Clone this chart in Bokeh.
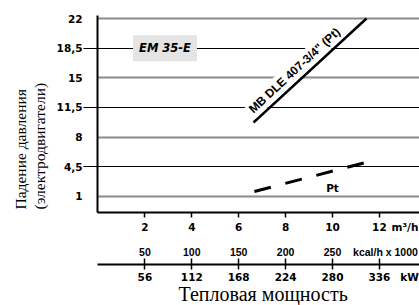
from bokeh.plotting import figure
from bokeh.models import Range1d, LinearAxis, FixedTicker, Label, Grid, Title
from bokeh.embed import file_html
from bokeh.resources import INLINE

# ---- data ----
y_ticks = [1, 4.5, 8, 11.5, 15, 18.5, 22]
y_tick_labels = ["1", "4,5", "8", "11,5", "15", "18,5", "22"]
grid_gray = [1, 8, 15, 22]
grid_black = [4.5, 11.5, 18.5]
flow_ticks = [2, 4, 6, 8, 10, 12]            # m3/h
kcal_ticks = [50, 100, 150, 200, 250]        # kcal/h x 1000
kw_ticks = [56, 112, 168, 224, 280, 336]     # kW
kcal_per_flow = 25
kw_per_flow = 28

flow_unit, flow_unit_at = "m³/h", 13.09
kcal_unit, kcal_unit_at = "kcal/h x 1000", 306.5
kw_unit, kw_unit_at = "kW", 371.9

mb_flow = [6.63, 11.45]
mb_dp = [9.73, 22.0]
pt_flow = [6.67, 11.41]
pt_dp = [1.59, 5.01]

# ---- ranges ----
X0, X1 = -0.021, 13.71
Y0, Y1 = -0.889, 22.354
AX_START = -0.19

p = figure(width=419, height=305, output_backend="svg", toolbar_location=None,
           x_range=Range1d(X0, X1), y_range=Range1d(Y0, Y1),
           min_border_left=97, min_border_right=0, min_border_top=15, min_border_bottom=93,
           x_axis_type=None, y_axis_type=None)
p.outline_line_color = None
p.background_fill_color = "white"
p.border_fill_color = "white"

FONT = "DejaVu Sans"


def style_labels(ax, font=FONT, size="10.5px"):
    ax.major_label_text_font = font
    ax.major_label_text_font_style = "bold"
    ax.major_label_text_font_size = size
    ax.major_label_text_color = "black"


# y axis
yax = LinearAxis(ticker=FixedTicker(ticks=y_ticks, minor_ticks=grid_black),
                 major_label_overrides={t: l for t, l in zip(y_ticks, y_tick_labels)})
yax.axis_line_color = "black"
yax.axis_line_width = 2
yax.major_tick_out = 0
yax.major_tick_in = 0
yax.minor_tick_out = 14
yax.minor_tick_in = 0
yax.minor_tick_line_color = "black"
yax.minor_tick_line_width = 1
yax.major_label_standoff = 1
style_labels(yax)
p.add_layout(yax, "left")

p.add_layout(Title(text="Падение давления\n(электродвигатели)", align="left", offset=3,
                   standoff=11, vertical_align="bottom", text_font="Liberation Serif",
                   text_font_size="15.5px", text_font_style="normal", text_color="black",
                   text_line_height=1.1), "left")

# x axis m3/h
xax = LinearAxis(ticker=FixedTicker(ticks=flow_ticks + [flow_unit_at], minor_ticks=flow_ticks),
                 bounds=(AX_START, X1), major_label_overrides={flow_unit_at: flow_unit})
xax.axis_line_width = 2
xax.axis_line_color = "black"
xax.major_tick_out = 0
xax.major_tick_in = 0
xax.minor_tick_out = 5
xax.minor_tick_in = 0
xax.minor_tick_line_color = "black"
xax.minor_tick_line_width = 1.5
xax.major_label_standoff = 3
style_labels(xax)
p.add_layout(xax, "below")

p.extra_x_ranges = {
    "kcal": Range1d(X0 * kcal_per_flow, X1 * kcal_per_flow),
    "kw": Range1d(X0 * kw_per_flow, X1 * kw_per_flow),
}

kax = LinearAxis(x_range_name="kcal", ticker=FixedTicker(ticks=kcal_ticks + [kcal_unit_at]),
                 major_label_overrides={kcal_unit_at: kcal_unit})
kax.axis_line_color = None
kax.major_tick_out = 0
kax.major_tick_in = 0
kax.minor_tick_line_color = None
kax.major_label_standoff = 10
style_labels(kax, font="Liberation Sans", size="10.5px")
kax.axis_label = " "
kax.axis_label_text_font_size = "1px"
kax.axis_label_standoff = 0
p.add_layout(kax, "below")

wax = LinearAxis(x_range_name="kw",
                 ticker=FixedTicker(ticks=kw_ticks + [kw_unit_at], minor_ticks=kw_ticks),
                 bounds=(AX_START * kw_per_flow, X1 * kw_per_flow),
                 major_label_overrides={kw_unit_at: kw_unit})
wax.axis_line_width = 2
wax.axis_line_color = "black"
wax.major_tick_out = 0
wax.major_tick_in = 0
wax.minor_tick_out = 5
wax.minor_tick_in = 6
wax.minor_tick_line_color = "black"
wax.minor_tick_line_width = 1.5
wax.major_label_standoff = 1
style_labels(wax)
p.add_layout(wax, "below")

p.add_layout(Title(text="Тепловая мощность", align="left", offset=81, standoff=-6,
                   vertical_align="top", text_font="Liberation Serif",
                   text_font_size="20px", text_font_style="normal", text_color="black"), "below")

# grid lines
p.add_layout(Grid(dimension=1, ticker=FixedTicker(ticks=grid_gray),
                  grid_line_color="#8a8a8a", grid_line_width=2))
p.add_layout(Grid(dimension=1, ticker=FixedTicker(ticks=grid_black),
                  grid_line_color="black", grid_line_width=1))

# curves
p.line(pt_flow, pt_dp, line_color="black", line_width=3, line_dash="17 15")

p.add_layout(Label(x=8.38, y=15.87, text='MB DLE 407-3/4" (Pt)', angle=0.745,
                   text_align="center", text_baseline="middle", text_color="black",
                   text_font="Liberation Sans", text_font_style="bold",
                   text_font_size="12px", background_fill_color="white", padding=2))
p.line(mb_flow, mb_dp, line_color="black", line_width=2.5)

p.add_layout(Label(x=2.857, y=18.5, text="EM 35-E", text_align="center", text_baseline="middle",
                   text_font=FONT, text_font_style="bold italic", text_font_size="11.5px",
                   text_color="black", background_fill_color="#e4e4e4", padding=6))
p.add_layout(Label(x=10.0, y=2.06, text="Pt", text_align="center", text_baseline="middle",
                   text_font=FONT, text_font_style="bold", text_font_size="10.5px",
                   text_color="black"))

open("out.html", "w").write(file_html(p, INLINE))
